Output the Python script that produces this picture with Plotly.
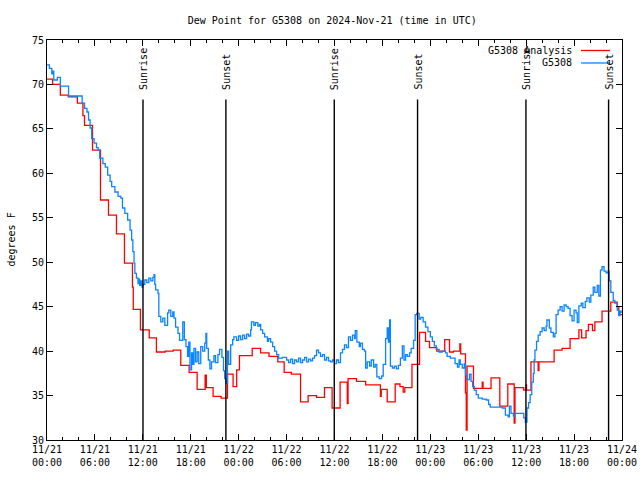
import datetime as dt
import plotly.graph_objects as go

# ---------------- data (hours after 2024-11-21 00:00 UTC) ----------------
BASE = dt.datetime(2024, 11, 21, 0, 0)

ANALYSIS_H = [0, 0.7, 1.67, 2.66, 3.8, 4.5, 4.7, 5.7, 6.7, 7.7, 8.7, 9.7, 10.7, 10.8,
              11.7, 12.8, 13.7, 14.8, 15.8, 16.75, 17.8, 18.8, 19.8, 19.95, 20.8, 21.8,
              22.6, 23.3, 23.75, 24.1, 25.7, 26.75, 27.8, 28.9, 29.7, 30.6, 31.75, 32.7,
              33.75, 34.75, 35.7, 36.7, 37.6, 37.7, 38.75, 39.9, 41.75, 41.85, 42.6, 43.6,
              44.2, 44.6, 44.8, 45.7, 46.65, 47.4, 47.9, 48.8, 49.8, 50.4, 50.9, 51.7,
              51.8, 52.4, 52.5, 52.6, 53.4, 54.5, 54.6, 55.6, 56.7, 57.7, 58.5, 58.6,
              59.7, 60.0, 60.05, 60.6, 61.5, 61.6, 63.5, 64.5, 65.5, 66.6, 66.95, 67.5,
              67.8, 68.3, 68.6, 69.5, 70.6, 71.4, 71.6, 72.0]
ANALYSIS_V = [70.6, 70.0, 68.8, 68.6, 67.9, 66.5, 65.4, 62.6, 57.0, 55.3, 53.2, 49.9, 47.2, 44.7,
              42.4, 41.5, 39.9, 40.0, 40.1, 38.4, 37.6, 35.7, 37.3, 35.9, 34.9, 34.7,
              37.4, 36.0, 37.9, 39.5, 40.3, 39.8, 39.4, 38.8, 37.6, 37.4, 34.3, 35.0,
              34.8, 35.9, 33.6, 36.5, 34.1, 36.9, 36.6, 36.2, 34.9, 35.7, 34.3, 36.3,
              36.0, 35.4, 35.9, 38.5, 42.1, 41.1, 40.4, 40.0, 41.3, 39.9, 40.0, 40.8,
              39.7, 35.3, 31.1, 38.3, 35.8, 36.5, 35.8, 37.0, 33.8, 36.3, 31.9, 35.9,
              35.6, 36.2, 35.6, 38.8, 37.8, 38.8, 40.1, 40.3, 41.4, 42.4, 41.5, 42.3,
              43.0, 42.3, 43.3, 44.5, 45.5, 45.0, 44.1, 44.1]

OBS_H = [0, 0.3, 0.6, 0.75, 0.85, 1.3, 1.67, 2.7, 4.4, 4.7, 5.0, 5.2, 5.4, 5.6, 5.9, 6.2,
         6.4, 6.6, 7.0, 7.3, 7.6, 7.9, 8.1, 8.5, 8.9, 9.25, 9.45, 9.75, 10.1, 10.4, 10.6,
         10.75, 10.9, 11.0, 11.2, 11.4, 11.5, 11.6, 11.75, 11.9, 12.0, 12.25, 12.5, 12.75,
         13.0, 13.25, 13.4, 13.5, 13.6, 13.9, 14.0, 14.25, 14.5, 14.75, 15.1, 15.25, 15.5,
         15.75, 15.9, 16.1, 16.4, 16.6, 17.0, 17.2, 17.4, 17.6, 17.75, 17.9, 18.1, 18.25,
         18.4, 18.6, 18.8, 19.0, 19.25, 19.5, 19.75, 19.9, 20.0, 20.2, 20.4, 20.6, 20.9,
         21.1, 21.4, 21.6, 21.9, 22.1, 22.25, 22.4, 22.6, 22.75, 23.0, 23.25, 23.4, 23.75,
         24.0, 24.25, 24.5, 24.75, 25.0, 25.25, 25.5, 25.6, 25.9, 26.1, 26.4, 26.6, 26.75,
         27.0, 27.25, 27.6, 27.75, 28.0, 28.25, 28.5, 28.75, 29.0, 29.5, 30.0, 30.25, 30.5,
         30.75, 31.0, 31.25, 31.5, 31.75, 32.0, 32.25, 32.5, 32.75, 33.0, 33.25, 33.5,
         33.75, 34.0, 34.25, 34.5, 34.75, 35.0, 35.25, 35.5, 35.75, 36.0, 36.25, 36.5,
         36.75, 37.0, 37.25, 37.5, 37.75, 38.0, 38.25, 38.5, 38.6, 38.8, 39.1, 39.25, 39.5,
         39.75, 39.9, 40.1, 40.4, 40.6, 40.9, 41.1, 41.3, 41.6, 41.9, 42.1, 42.4, 42.6,
         42.75, 42.9, 43.0, 43.25, 43.5, 43.75, 44.0, 44.25, 44.5, 44.7, 44.9, 45.1, 45.4,
         45.6, 45.9, 46.1, 46.3, 46.6, 46.8, 47.1, 47.4, 47.7, 48.0, 48.25, 48.5, 48.75,
         49.1, 49.5, 49.9, 50.1, 50.5, 50.9, 51.1, 51.4, 51.6, 51.75, 52.0, 52.25, 52.4,
         52.6, 52.9, 53.1, 53.3, 53.5, 53.75, 54.0, 54.5, 55.0, 55.3, 55.5, 56.0, 56.5,
         57.0, 57.4, 57.75, 57.9, 58.1, 58.4, 58.6, 59.25, 59.7, 59.9, 60.1, 60.3, 60.5,
         60.7, 60.9, 61.0, 61.1, 61.3, 61.5, 61.75, 62.0, 62.25, 62.5, 62.6, 62.9, 63.1,
         63.4, 63.6, 63.75, 64.0, 64.25, 64.5, 64.75, 65.0, 65.25, 65.5, 65.75, 66.0,
         66.25, 66.4, 66.6, 66.9, 67.1, 67.4, 67.6, 67.9, 68.1, 68.4, 68.6, 68.9, 69.1,
         69.3, 69.5, 69.75, 70.0, 70.25, 70.4, 70.6, 70.9, 71.1, 71.4, 71.6, 71.75, 71.9]
OBS_V = [72.2, 71.8, 71.2, 71.5, 70.5, 70.8, 69.8, 68.7, 67.9, 67.3, 66.9, 66.0, 65.1, 63.9, 63.4, 62.9,
         62.6, 61.7, 61.1, 60.7, 59.8, 59.1, 58.5, 57.9, 57.4, 57.2, 56.1, 55.5, 54.75, 53.6, 52.5,
         51.2, 49.9, 48.75, 48.2, 47.6, 48.1, 47.4, 47.9, 47.2, 47.5, 48.0, 47.7, 48.2,
         47.9, 48.3, 48.6, 47.5, 46.9, 46.5, 43.9, 43.3, 43.7, 42.9, 44.3, 44.6, 43.9,
         44.4, 43.7, 42.7, 42.0, 41.2, 43.3, 41.3, 40.5, 39.4, 41.0, 37.9, 39.8, 38.5,
         40.3, 38.8, 39.9, 38.6, 40.5, 40.0, 40.9, 42.0, 40.3, 39.0, 38.0, 38.8, 39.5,
         38.7, 39.6, 40.2, 39.3, 37.8, 36.9, 36.4, 40.0, 38.5, 40.7, 41.3, 41.6, 41.2,
         41.7, 41.3, 41.8, 41.4, 41.9, 41.7, 42.4, 43.3, 42.9, 43.2, 42.8, 43.0, 42.4,
         42.0, 41.6, 41.1, 41.4, 41.0, 40.5, 40.0, 39.6, 39.2, 39.3, 39.0, 38.7, 39.1,
         38.6, 39.0, 38.8, 39.2, 38.7, 39.0, 39.3, 38.8, 39.1, 38.9, 39.2, 39.5,
         40.1, 39.8, 39.4, 39.6, 39.0, 39.3, 38.9, 38.8, 39.0, 38.6, 39.0, 38.7,
         39.8, 40.2, 40.7, 40.4, 41.6, 41.2, 41.8, 41.4, 42.3, 41.0, 40.5, 40.9, 40.2,
         40.0, 38.1, 38.8, 38.3, 39.0, 38.2, 38.5, 37.1, 36.9, 37.2, 38.5, 41.4, 42.6,
         41.0, 43.5, 38.3, 38.1, 38.3, 38.0, 38.4, 39.2, 40.6, 39.0, 39.6, 39.4, 39.8,
         40.3, 41.2, 44.1, 44.25, 43.6, 43.8, 43.3, 42.7, 42.2, 41.6, 41.1, 40.6, 40.2,
         39.9, 40.0, 39.8, 39.4, 39.2, 39.2, 38.6, 38.2, 39.0, 38.5, 38.1, 38.6, 37.3,
         36.8, 37.4, 36.6, 36.0, 35.6, 35.1, 34.7, 34.6, 34.5, 34.0, 33.7, 33.7, 33.7,
         33.6, 32.8, 32.6, 33.8, 33.0, 32.7, 33.0, 33.0, 32.5, 32.0, 33.6, 34.2, 35.1,
         36.5, 37.5, 39.0, 40.1, 41.1, 41.8, 42.2, 42.6, 42.3, 42.8, 43.5, 42.6, 42.1,
         41.6, 42.0, 44.1, 44.6, 45.0, 44.5, 45.2, 45.0, 44.8, 44.0, 43.4, 44.6,
         44.3, 43.2, 45.1, 45.4, 44.9, 45.6, 46.0, 45.5, 46.3, 47.2, 46.6, 47.4, 46.2,
         49.1, 49.5, 49.0, 48.8, 49.0, 47.9, 46.6, 45.7, 45.4, 44.6, 44.0, 44.5, 44.3]

SUN_EVENTS_H = [12.02, 22.4, 35.97, 46.4, 59.97, 70.32]
SUN_LABELS = ["Sunrise", "Sunset", "Sunrise", "Sunset", "Sunrise", "Sunset"]
SUN_LINE_TOP = 68.3

X_TICK_H = [0, 6, 12, 18, 24, 30, 36, 42, 48, 54, 60, 66, 72]
X_TICK_TEXT = ["11/21<br>00:00", "11/21<br>06:00", "11/21<br>12:00", "11/21<br>18:00",
               "11/22<br>00:00", "11/22<br>06:00", "11/22<br>12:00", "11/22<br>18:00",
               "11/23<br>00:00", "11/23<br>06:00", "11/23<br>12:00", "11/23<br>18:00",
               "11/24<br>00:00"]
Y_TICKS = [30, 35, 40, 45, 50, 55, 60, 65, 70, 75]

SERIES_NAMES = ["G5308 Analysis", "G5308"]
COLORS = ["#ff0000", "#0a84ff"]


def t(h):
    return BASE + dt.timedelta(hours=h)


FONT = "DejaVu Sans Mono"

fig = go.Figure()
fig.add_trace(go.Scatter(x=[t(h) for h in ANALYSIS_H], y=ANALYSIS_V, mode="lines",
                         line=dict(color=COLORS[0], width=1.3, shape="hv"),
                         name=SERIES_NAMES[0], showlegend=False))
fig.add_trace(go.Scatter(x=[t(h) for h in OBS_H], y=OBS_V, mode="lines",
                         line=dict(color=COLORS[1], width=1.3, shape="hv"),
                         name=SERIES_NAMES[1], showlegend=False))

# sunrise / sunset markers
for h, lab in zip(SUN_EVENTS_H, SUN_LABELS):
    fig.add_shape(type="line", xref="x", yref="y", x0=t(h), x1=t(h), y0=30, y1=SUN_LINE_TOP,
                  line=dict(color="black", width=1.4), layer="above")
    fig.add_annotation(x=t(h), y=69.15, xref="x", yref="y", text=lab, textangle=-90,
                       showarrow=False, xanchor="center", yanchor="bottom",
                       font=dict(family=FONT, size=10, color="black"))

# plot area in pixels for manual legend placement
L, R, T, B = 46.5, 622, 39.5, 440


def px(x):
    return (x - L) / (R - L)


def py(y):
    return (B - y) / (B - T)


for i, (name, col) in enumerate(zip(SERIES_NAMES, COLORS)):
    yy = 50 + i * 12.5
    fig.add_annotation(x=px(574), y=py(yy), xref="paper", yref="paper", text=name,
                       showarrow=False, xanchor="right", yanchor="middle",
                       font=dict(family=FONT, size=10, color="black"))
    fig.add_shape(type="line", xref="paper", yref="paper", x0=px(581), x1=px(610),
                  y0=py(yy), y1=py(yy), line=dict(color=col, width=1.3))

fig.add_annotation(x=px(10), y=0.5, xref="paper", yref="paper", text="degrees F",
                   textangle=-90, showarrow=False, xanchor="center", yanchor="middle",
                   font=dict(family=FONT, size=10, color="black"))

fig.update_layout(
    width=640, height=480,
    margin=dict(l=46.5, r=18, t=40, b=40),
    paper_bgcolor="white", plot_bgcolor="white",
    font=dict(family=FONT, size=10, color="black"),
    title=dict(text="Dew Point for G5308 on 2024-Nov-21 (time in UTC)", x=px(332),
               xref="paper", xanchor="center", y=1 - 20 / 480, yanchor="middle",
               font=dict(family=FONT, size=10, color="black")),
    xaxis=dict(range=[t(0), t(72)], tickmode="array", automargin=False,
               tickvals=[t(h) for h in X_TICK_H], ticktext=X_TICK_TEXT,
               ticks="inside", ticklen=6, tickcolor="black", showgrid=False,
               zeroline=False, showline=True, linecolor="black", linewidth=1,
               mirror="allticks",
               minor=dict(tickmode="linear", tick0=t(0), dtick=2 * 3600 * 1000,
                          ticks="inside", ticklen=3, tickcolor="black", showgrid=False),
               tickfont=dict(family=FONT, size=10)),
    yaxis=dict(range=[30, 75], tickmode="array", tickvals=Y_TICKS, automargin=False,
               ticks="inside", ticklen=6, tickcolor="black", showgrid=False,
               zeroline=False, showline=True, linecolor="black", linewidth=1,
               mirror="allticks", tickfont=dict(family=FONT, size=10)),
)

fig.write_html("out.html", config={"displayModeBar": False},
               post_script="document.body.style.margin='0';document.body.style.overflow='hidden';")
